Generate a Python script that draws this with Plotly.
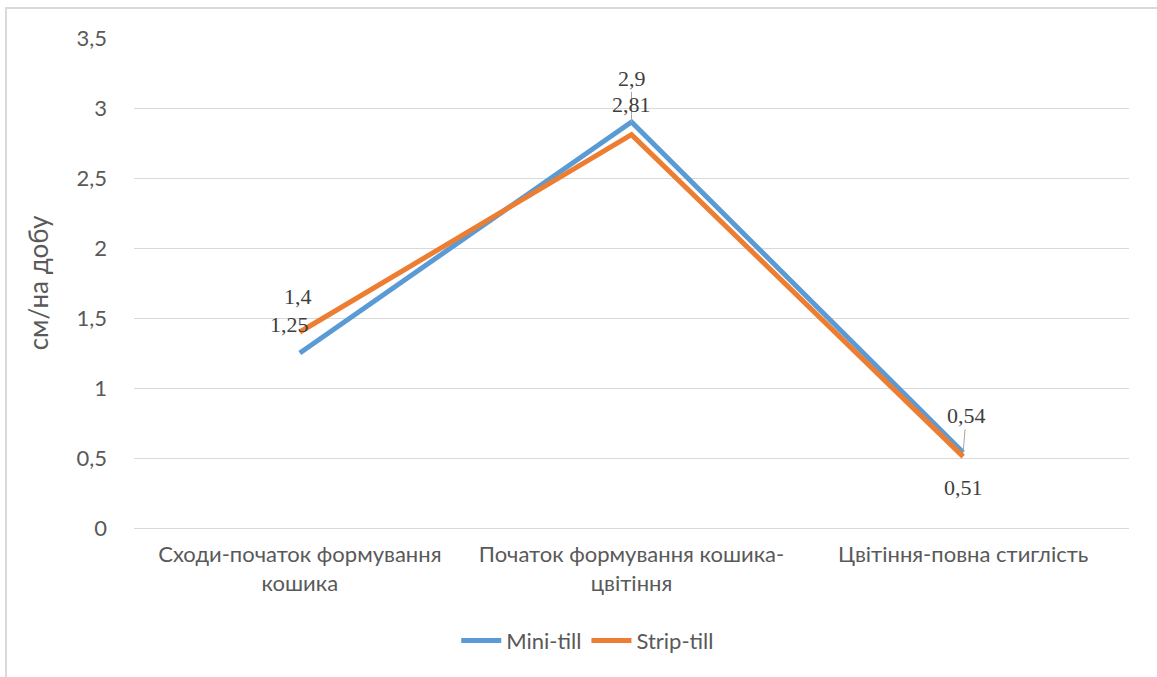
import plotly.graph_objects as go

# Growth-rate data, cm per day, by development stage
stages = [
    "Сходи-початок формування<br>кошика",
    "Початок формування кошика-<br>цвітіння",
    "Цвітіння-повна стиглість",
]
mini_till = [1.25, 2.9, 0.54]
strip_till = [1.4, 2.81, 0.51]
y_ticks = [0, 0.5, 1, 1.5, 2, 2.5, 3, 3.5]

BLUE = "#5B9BD5"
ORANGE = "#ED7D31"
AXIS_FONT = "Lato, 'Open Sans', 'Liberation Sans', sans-serif"
LABEL_FONT = "'Liberation Serif', 'DejaVu Serif', serif"

x_idx = list(range(len(stages)))

fig = go.Figure()
fig.add_trace(go.Scatter(
    x=x_idx, y=mini_till, mode="lines", name="Mini-till",
    line=dict(color=BLUE, width=5),
))
fig.add_trace(go.Scatter(
    x=x_idx, y=strip_till, mode="lines", name="Strip-till",
    line=dict(color=ORANGE, width=5),
))


def fmt(v):
    return f"{v:g}".replace(".", ",")


label_font = dict(family=LABEL_FONT, size=22, color="#404040")

# Value labels: (series values, index, xshift, yshift, leader offset or None)
label_specs = [
    (mini_till, 0, -10, 29, None),
    (strip_till, 0, -2, 36, None),
    (mini_till, 1, 0, 0, (0, -44)),
    (strip_till, 1, 0, 30, None),
    (mini_till, 2, 0, 0, (3, -37)),
    (strip_till, 2, 0, -31, None),
]
for series, i, xs, ys, leader in label_specs:
    if leader is None:
        fig.add_annotation(
            x=i, y=series[i], text=fmt(series[i]), showarrow=False,
            xshift=xs, yshift=ys, font=label_font,
        )
    else:
        fig.add_annotation(
            x=i, y=series[i], text=fmt(series[i]), showarrow=True,
            ax=leader[0], ay=leader[1], arrowhead=0, arrowwidth=1,
            arrowcolor="#A6A6A6", standoff=0, font=label_font,
        )

# Light chart-area frame
fig.add_shape(
    type="rect", xref="paper", yref="paper",
    x0=-0.1286, x1=1.05, y0=-0.35, y1=1.0612,
    line=dict(color="#D9D9D9", width=2), fillcolor="rgba(0,0,0,0)",
    layer="below",
)

fig.update_layout(
    width=1157, height=677,
    margin=dict(l=134, r=28, t=38, b=149),
    paper_bgcolor="white", plot_bgcolor="white",
    separators=", ",
    font=dict(family=AXIS_FONT, size=22, color="#595959"),
    showlegend=True,
    legend=dict(
        orientation="h", x=0.456, xanchor="center", y=-0.23, yanchor="middle",
        font=dict(family=AXIS_FONT, size=22, color="#595959"),
        itemwidth=40, tracegroupgap=0,
    ),
    xaxis=dict(
        tickmode="array", tickvals=x_idx, ticktext=stages,
        range=[-0.5, 2.5], showgrid=False, zeroline=False,
        showline=False, ticks="", ticklabelstandoff=11,
    ),
    yaxis=dict(
        range=[0, 3.5], tickvals=y_ticks,
        showgrid=True, gridcolor="#D9D9D9", gridwidth=1,
        zeroline=True, zerolinecolor="#D9D9D9", zerolinewidth=1,
        showline=False, ticks="", ticklabelstandoff=26,
        title=dict(text="см/на добу", font=dict(size=26, color="#595959"),
                   standoff=20),
    ),
)

fig.write_html("out.html")
